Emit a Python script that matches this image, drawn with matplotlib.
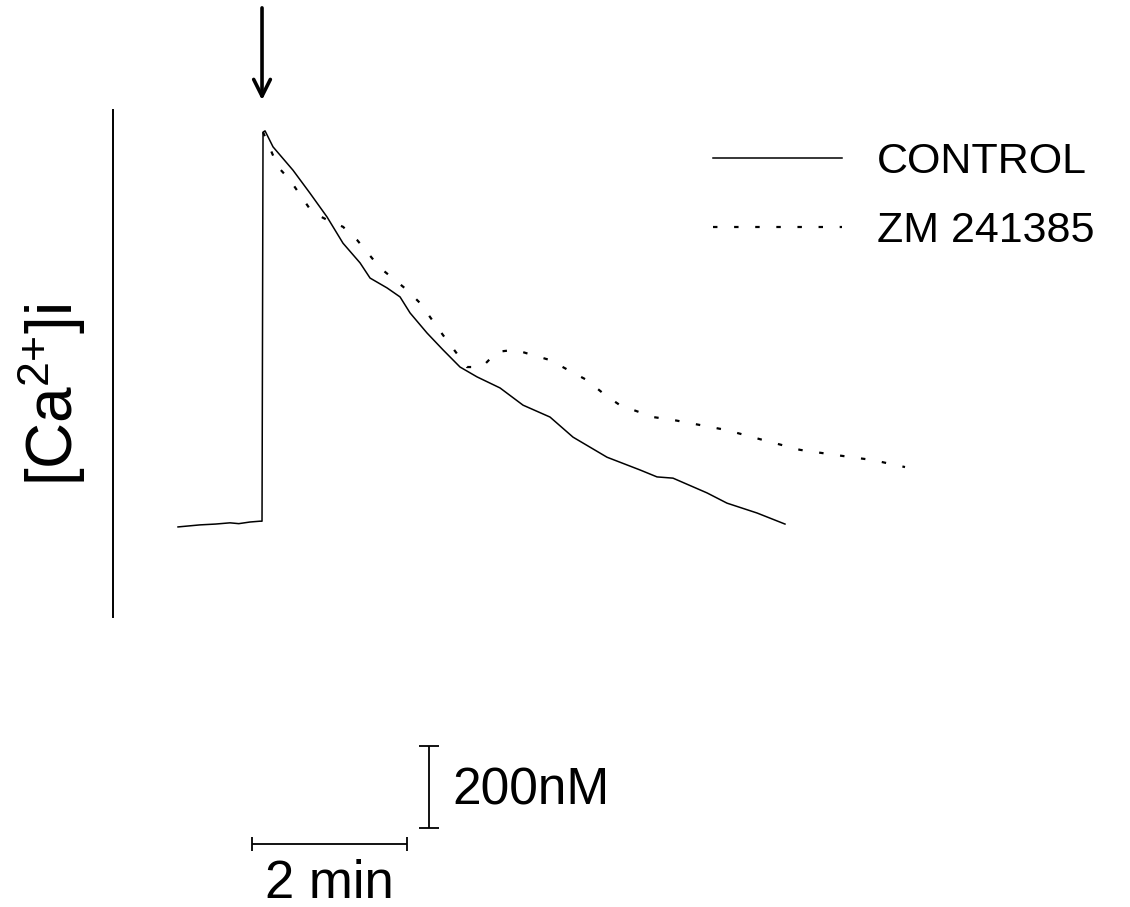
import numpy as np
import matplotlib.pyplot as plt

plt.rcParams['font.family'] = ['Liberation Sans', 'DejaVu Sans']
plt.rcParams['mathtext.fontset'] = 'custom'
plt.rcParams['mathtext.rm'] = 'Liberation Sans'
plt.rcParams['mathtext.default'] = 'regular'

# time in min (0 = stimulus), [Ca2+]i in nM
control_t = [-1.084, -0.80, -0.60, -0.413, -0.30, -0.155, -0.026, 0.0, 0.013, 0.039,
             0.142, 0.400, 0.619, 0.839, 1.045, 1.265, 1.394, 1.613, 1.781, 1.910,
             2.129, 2.335, 2.555, 2.774, 3.071, 3.368, 3.716, 4.013, 4.452, 4.877,
             5.097, 5.303, 5.742, 6.000, 6.387, 6.748]
control_c = [88, 93, 95, 98, 96, 100, 102, 102, 1051, 1054,
             1015, 958, 902, 844, 780, 732, 695, 671, 649, 610,
             561, 520, 478, 454, 427, 385, 356, 307, 258, 227,
             210, 207, 171, 146, 122, 95]

zm_t = [0.013, 0.206, 0.361, 0.645, 0.839, 1.045, 1.226, 1.523, 1.871, 2.039,
        2.335, 2.645, 2.839, 3.032, 3.265, 3.497, 3.716, 3.948, 4.194, 4.426,
        4.619, 5.045, 5.303, 5.781, 6.000, 6.465, 6.942, 7.419, 7.884, 8.297]
zm_c = [1051, 966, 934, 856, 837, 820, 788, 720, 666, 634,
        556, 478, 478, 515, 520, 507, 495, 471, 446, 410,
        385, 356, 349, 332, 324, 300, 276, 263, 251, 234]

labels = ['CONTROL', 'ZM 241385']
time_bar = 2.0      # min
conc_bar = 200.0    # nM

fig = plt.figure(figsize=(11.3, 9.07), dpi=100)
ax = fig.add_axes([0, 0, 1, 1])
ax.set_xlim(-3.381, 11.2)
ax.set_ylim(-839.0, 1373.2)

ax.plot(control_t, control_c, color='black', lw=1.1, label=labels[0])
ax.plot(zm_t, zm_c, color='black', lw=1.6, linestyle=(0, (2.0, 7.5)), label=labels[1])

# stimulus arrow
ax.annotate('', xy=(0.0, 1129), xytext=(0.0, 1354),
            arrowprops=dict(arrowstyle='->', lw=2.6, mutation_scale=30,
                            shrinkA=0, shrinkB=0, color='black'))

# left axis line without ticks
for s in ['top', 'right', 'bottom']:
    ax.spines[s].set_visible(False)
ax.spines['left'].set_position(('data', -1.923))
ax.spines['left'].set_bounds(-132, 1105)
ax.spines['left'].set_linewidth(1.4)
ax.set_xticks([])
ax.set_yticks([])
ax.text(52 / 1130, 1 - 395 / 907, '[Ca$^{2{+}}$]i', transform=ax.transAxes,
        rotation=90, ha='center', va='center', fontsize=46)

# scale bars
ax.errorbar(-0.129 + time_bar / 2, -685, xerr=time_bar / 2, color='black',
            lw=1.3, capsize=5, capthick=1.3)
ax.errorbar(2.155, -546, yerr=conc_bar / 2, color='black',
            lw=1.3, capsize=7, capthick=1.3)
ax.text(-0.129 + time_bar / 2, -817, '2 min', ha='center', va='baseline', fontsize=38)
ax.text(2.452, -590, '200nM', ha='left', va='baseline', fontsize=37)

ax.legend(loc='upper left', bbox_to_anchor=(713 / 1130, 1 - 142 / 907),
          frameon=False, fontsize=31, handlelength=3.0, handletextpad=0.8,
          labelspacing=0.68, borderpad=0, borderaxespad=0)

plt.savefig('out.png', dpi=100)
